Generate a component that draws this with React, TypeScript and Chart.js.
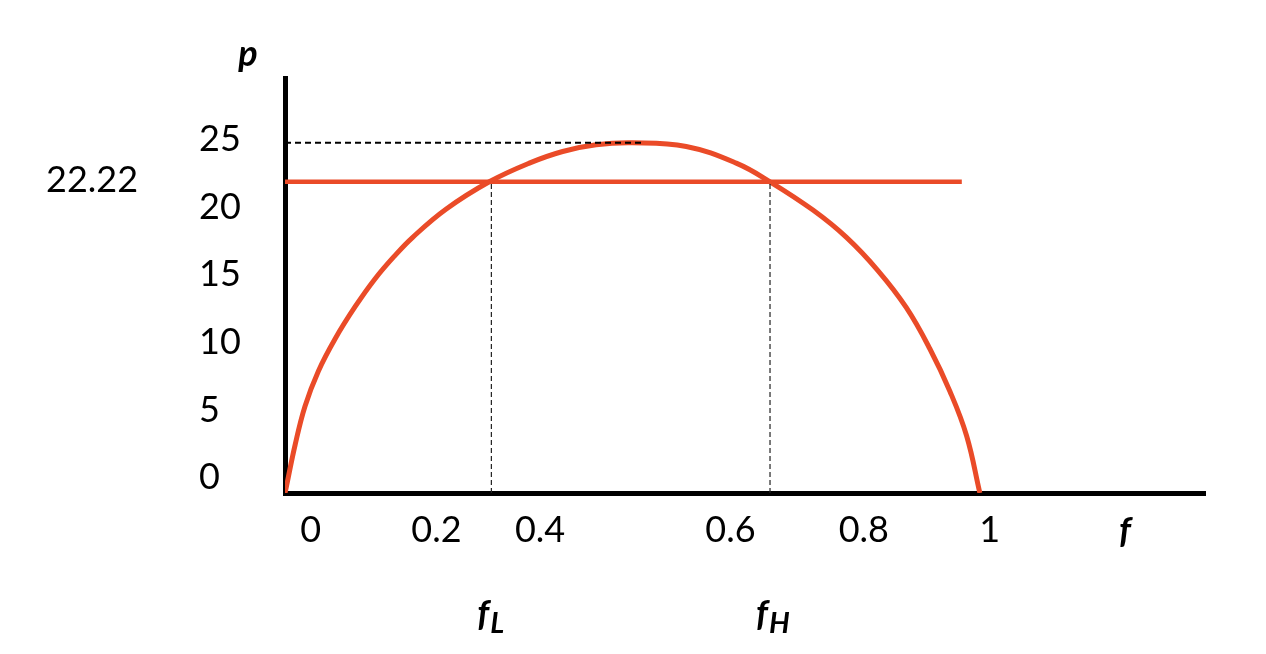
import React, { useEffect, useRef } from 'react';
import { Chart, registerables } from 'chart.js';

Chart.register(...registerables);

// ---- data ----
const curveF = [0, 0.0024, 0.0144, 0.0288, 0.048, 0.072, 0.1009, 0.1297, 0.1585, 0.1834, 0.2316, 0.294, 0.3516, 0.3996, 0.4477, 0.5, 0.5774, 0.6494, 0.698, 0.7598, 0.808, 0.853, 0.894, 0.928, 0.957, 0.981, 1.0];
const curveP = [0, 0.55, 3.4, 6.2, 8.7, 11.0, 13.3, 15.3, 16.97, 18.24, 20.26, 22.22, 23.55, 24.38, 24.86, 25.0, 24.74, 23.55, 22.22, 20.2, 18.25, 15.9, 13.25, 10.3, 7.25, 4.07, 0];
const thresholdP = 22.22;
const thresholdEndF = 0.974;
const peakP = 25;
const peakLineEndF = 0.517;
const fL = 0.297;
const fH = 0.698;
const yTickValues = [0, 5, 10, 15, 20, 25];
const xTickLabels = ['0', '0.2', '0.4', '0.6', '0.8', '1'];
const thresholdLabel = '22.22';

// ---- layout / style constants ----
const X_LABEL_ANCHORS = [0.037, 0.218, 0.367, 0.641, 0.833, 1.014];
const Y_LABEL_SCALE = 0.9644;
const Y_LABEL_OFFSET = 1.21;
const RED = '#EA4B28';
const FONT = 'Lato, "Open Sans", sans-serif';

const textPlugin = {
  id: 'textPlugin',
  afterDraw(chart: any) {
    const ctx = chart.ctx;
    const xs = chart.scales.x;
    const ys = chart.scales.y;
    const area = chart.chartArea;
    ctx.save();
    ctx.fillStyle = '#000';
    ctx.textBaseline = 'alphabetic';

    // y tick labels
    ctx.font = `36px ${FONT}`;
    ctx.textAlign = 'left';
    yTickValues.forEach((v) => {
      const py = ys.getPixelForValue(v * Y_LABEL_SCALE + Y_LABEL_OFFSET);
      ctx.fillText(String(v), 199, py + 13);
    });

    // x tick labels
    ctx.textAlign = 'center';
    xTickLabels.forEach((t, i) => {
      const px = xs.getPixelForValue(X_LABEL_ANCHORS[i]);
      ctx.fillText(t, px, area.bottom + 49);
    });

    // threshold value label
    ctx.textAlign = 'left';
    ctx.fillText(thresholdLabel, 46, ys.getPixelForValue(thresholdP) + 10);

    // axis titles
    ctx.font = `italic bold 36px ${FONT}`;
    ctx.textAlign = 'center';
    ctx.fillText('p', 248, 66);
    ctx.fillText('f', 1125, area.bottom + 50);

    // f_L, f_H
    const drawSub = (main: string, sub: string, x: number) => {
      ctx.textAlign = 'left';
      ctx.font = `italic bold 36px ${FONT}`;
      ctx.fillText(main, x, 626);
      const w = ctx.measureText(main).width;
      ctx.font = `italic bold 29px ${FONT}`;
      ctx.fillText(sub, x + w + 1, 633);
    };
    drawSub('f', 'L', xs.getPixelForValue(fL) - 14);
    drawSub('f', 'H', xs.getPixelForValue(fH) - 14);

    ctx.restore();
  },
};

export default function App() {
  const ref = useRef<HTMLCanvasElement | null>(null);

  useEffect(() => {
    document.body.style.margin = '0';
    const canvas = ref.current;
    if (!canvas) return;
    const curve = curveF.map((f, i) => ({ x: f, y: curveP[i] }));
    const chart = new Chart(canvas, {
      type: 'line',
      data: {
        datasets: [
          {
            data: [{ x: 0, y: peakP }, { x: peakLineEndF, y: peakP }],
            borderColor: '#000',
            borderWidth: 2,
            borderDash: [6, 4],
            pointRadius: 0,
          },
          {
            data: [{ x: fL, y: 0 }, { x: fL, y: thresholdP }],
            borderColor: '#222',
            borderWidth: 1.2,
            borderDash: [5, 3],
            pointRadius: 0,
          },
          {
            data: [{ x: fH, y: 0 }, { x: fH, y: thresholdP }],
            borderColor: '#222',
            borderWidth: 1.2,
            borderDash: [5, 3],
            pointRadius: 0,
          },
          {
            data: curve,
            borderColor: RED,
            borderWidth: 5,
            pointRadius: 0,
            tension: 0.4,
          },
          {
            data: [{ x: 0, y: thresholdP }, { x: thresholdEndF, y: thresholdP }],
            borderColor: RED,
            borderWidth: 4.5,
            pointRadius: 0,
          },
        ],
      },
      options: {
        responsive: false,
        animation: false,
        events: [],
        layout: { padding: { left: 277, right: 61, top: 78, bottom: 153 } },
        plugins: { legend: { display: false }, tooltip: { enabled: false } },
        scales: {
          x: {
            type: 'linear',
            min: 0,
            max: 1.324,
            grid: { display: false },
            ticks: { display: false },
            border: { display: true, color: '#000', width: 5 },
          },
          y: {
            type: 'linear',
            min: 0,
            max: 29.63,
            grid: { display: false },
            ticks: { display: false },
            border: { display: true, color: '#000', width: 5 },
          },
        },
      },
      plugins: [textPlugin],
    } as any);
    return () => chart.destroy();
  }, []);

  return (
    <div style={{ width: 1266, height: 654, background: '#fff' }}>
      <canvas ref={ref} width={1266} height={654} />
    </div>
  );
}
